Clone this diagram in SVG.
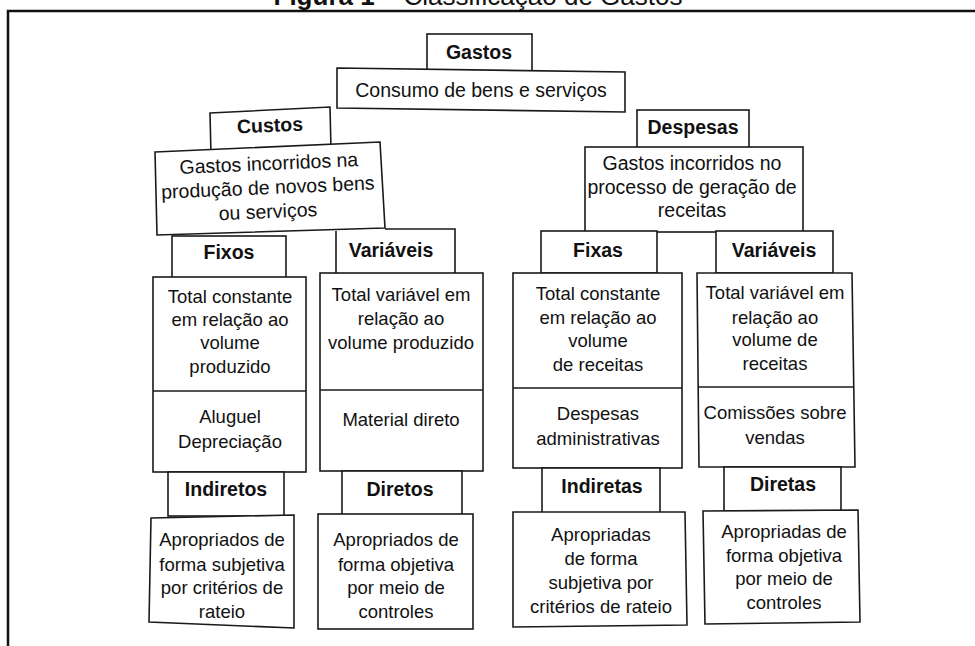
<svg xmlns="http://www.w3.org/2000/svg" width="975" height="646" viewBox="0 0 975 646">
<style>
  .box { fill: #fff; stroke: #1a1a1a; stroke-width: 1.6; }
  .div { fill: none; stroke: #1a1a1a; stroke-width: 1.6; }
  .t { font-family: "Liberation Sans", Arial, sans-serif; font-size: 18.5px; fill: #111; text-anchor: middle; }
  .tu { font-family: "Liberation Sans", Arial, sans-serif; font-size: 19.5px; fill: #111; text-anchor: middle; }
  .h { font-family: "Liberation Sans", Arial, sans-serif; font-size: 19.5px; font-weight: bold; fill: #111; text-anchor: middle; }
  .title { font-family: "Liberation Sans", Arial, sans-serif; font-size: 26px; fill: #111; text-anchor: middle; }
</style>
<rect width="975" height="646" fill="#fff"/>
<text class="title" x="478" y="5"><tspan font-weight="bold">Figura 1</tspan> – Classificação de Gastos</text>
<path d="M8 646 V11 H975" fill="none" stroke="#111" stroke-width="2.5"/>

<g id="gastos">
  <rect class="box" x="427" y="34" width="105" height="40"/>
  <text class="h" x="479" y="59">Gastos</text>
</g>
<g id="consumo">
  <path class="box" d="M337 68 L625 72 L625 112 L337 108 Z"/>
  <text class="tu" x="481" y="97">Consumo de bens e serviços</text>
</g>

<g id="custos">
  <path class="box" d="M210 113 L330 107 L331 150 L211 155 Z"/>
  <text class="h" x="270" y="132" transform="rotate(-2.5 270 126)">Custos</text>
</g>
<g id="custos-def">
  <path class="box" d="M155 152 L380 142 L385 228 L157 235 Z"/>
  <g transform="rotate(-2.5 270 190)">
    <text class="tu" x="270" y="170">Gastos incorridos na</text>
    <text class="tu" x="268" y="194">produção de novos bens</text>
    <text class="tu" x="267" y="218">ou serviços</text>
  </g>
</g>

<g id="despesas">
  <rect class="box" x="637" y="110" width="112" height="40"/>
  <text class="h" x="693" y="134">Despesas</text>
</g>
<g id="despesas-def">
  <rect class="box" x="585" y="147" width="218" height="85"/>
  <text class="tu" x="692" y="170">Gastos incorridos no</text>
  <text class="tu" x="692" y="194">processo de geração de</text>
  <text class="tu" x="692" y="217">receitas</text>
</g>

<!-- Custos children -->
<g id="fixos">
  <rect class="box" x="172" y="236" width="114" height="42"/>
  <text class="h" x="229" y="259">Fixos</text>
</g>
<g id="fixos-def">
  <rect class="box" x="153" y="277" width="153" height="195"/>
  <line class="div" x1="153" y1="391" x2="306" y2="391"/>
  <text class="t" x="230" y="303">Total constante</text>
  <text class="t" x="230" y="326">em relação ao</text>
  <text class="t" x="230" y="349">volume</text>
  <text class="t" x="230" y="373">produzido</text>
  <text class="t" x="230" y="423">Aluguel</text>
  <text class="t" x="230" y="448">Depreciação</text>
</g>
<g id="variaveis-c">
  <path class="box" d="M385 229 L455 229 L455 274 L336 274 L336 231"/>
  <text class="h" x="391" y="257">Variáveis</text>
</g>
<g id="variaveis-c-def">
  <rect class="box" x="320" y="273" width="163" height="198"/>
  <line class="div" x1="320" y1="390" x2="483" y2="390"/>
  <text class="t" x="401" y="301">Total variável em</text>
  <text class="t" x="401" y="325">relação ao</text>
  <text class="t" x="401" y="349">volume produzido</text>
  <text class="t" x="401" y="426">Material direto</text>
</g>

<!-- Despesas children -->
<g id="fixas">
  <rect class="box" x="541" y="231" width="116" height="42"/>
  <text class="h" x="598" y="257">Fixas</text>
</g>
<g id="fixas-def">
  <rect class="box" x="513" y="273" width="169" height="195"/>
  <line class="div" x1="513" y1="388" x2="682" y2="388"/>
  <text class="t" x="598" y="300">Total constante</text>
  <text class="t" x="598" y="324">em relação ao</text>
  <text class="t" x="598" y="347">volume</text>
  <text class="t" x="598" y="371">de receitas</text>
  <text class="t" x="598" y="420">Despesas</text>
  <text class="t" x="598" y="445">administrativas</text>
</g>
<g id="variaveis-d">
  <rect class="box" x="716" y="231" width="117" height="42"/>
  <text class="h" x="774" y="257">Variáveis</text>
</g>
<g id="variaveis-d-def">
  <path class="box" d="M697 273 L852 273 L855 467 L699 467 Z"/>
  <line class="div" x1="698" y1="387" x2="854" y2="387"/>
  <text class="t" x="775" y="299">Total variável em</text>
  <text class="t" x="775" y="324">relação ao</text>
  <text class="t" x="775" y="346">volume de</text>
  <text class="t" x="775" y="370">receitas</text>
  <text class="t" x="775" y="419">Comissões sobre</text>
  <text class="t" x="775" y="444">vendas</text>
</g>

<!-- bottom row -->
<g id="indiretos">
  <rect class="box" x="168" y="472" width="116" height="44"/>
  <text class="h" x="226" y="496">Indiretos</text>
</g>
<g id="indiretos-def">
  <path class="box" d="M151 518 L294 515 L294 628 L149 622 Z"/>
  <text class="t" x="222" y="546">Apropriados de</text>
  <text class="t" x="222" y="571">forma subjetiva</text>
  <text class="t" x="222" y="594">por critérios de</text>
  <text class="t" x="222" y="618">rateio</text>
</g>
<g id="diretos">
  <rect class="box" x="342" y="471" width="120" height="44"/>
  <text class="h" x="400" y="496">Diretos</text>
</g>
<g id="diretos-def">
  <rect class="box" x="318" y="514" width="155" height="115"/>
  <text class="t" x="396" y="546">Apropriados de</text>
  <text class="t" x="396" y="571">forma objetiva</text>
  <text class="t" x="396" y="594">por meio de</text>
  <text class="t" x="396" y="618">controles</text>
</g>
<g id="indiretas">
  <rect class="box" x="542" y="468" width="118" height="45"/>
  <text class="h" x="602" y="493">Indiretas</text>
</g>
<g id="indiretas-def">
  <path class="box" d="M513 512 L685 512 L687 625 L513 627 Z"/>
  <text class="t" x="601" y="541">Apropriadas</text>
  <text class="t" x="601" y="565">de forma</text>
  <text class="t" x="601" y="589">subjetiva por</text>
  <text class="t" x="601" y="613">critérios de rateio</text>
</g>
<g id="diretas">
  <rect class="box" x="724" y="467" width="117" height="44"/>
  <text class="h" x="783" y="491">Diretas</text>
</g>
<g id="diretas-def">
  <path class="box" d="M703 511 L858 510 L860 622 L705 624 Z"/>
  <text class="t" x="784" y="538">Apropriadas de</text>
  <text class="t" x="784" y="562">forma objetiva</text>
  <text class="t" x="784" y="585">por meio de</text>
  <text class="t" x="784" y="609">controles</text>
</g>
<g id="connectors"></g>
</svg>
